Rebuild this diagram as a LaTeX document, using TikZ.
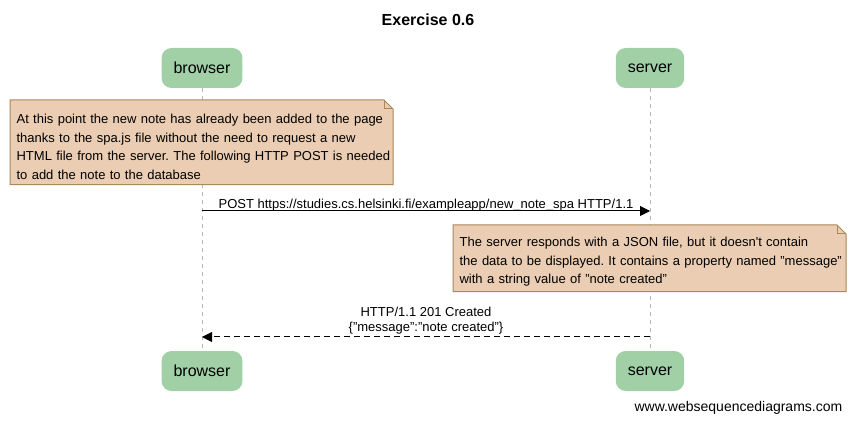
\documentclass[tikz,border=0pt]{standalone}
\usepackage{fontspec}
\setmainfont{Liberation Sans}
\usetikzlibrary{arrows.meta, backgrounds}
\definecolor{actorgreen}{RGB}{161,208,167}
\definecolor{notefill}{RGB}{234,205,178}
\definecolor{noteedge}{RGB}{168,136,88}
\frenchspacing

\begin{document}
\begin{tikzpicture}[
x=0.75pt, y=-0.75pt,
every node/.style={font=\fontsize{9.75}{13.875}\selectfont},
actor/.style={fill=actorgreen, rounded corners=7.5pt, minimum height=30pt, inner xsep=9pt, font=\fontsize{12}{14}\selectfont},
note/.style={anchor=north west, align=left, text width=300pt, inner xsep=4.75pt, inner ysep=3.75pt},
notebg/.style={fill=notefill, draw=noteedge, line width=0.75pt},
lifeline/.style={draw=gray!55, dash pattern=on 3pt off 3pt, line width=0.75pt},
msg/.style={-{Triangle[length=7.5pt, width=7.5pt]}, line width=0.75pt},
reply/.style={msg, dash pattern=on 4.5pt off 3pt}
]
\useasboundingbox (0,0) rectangle (855,423);
% Title
\node[font=\fontsize{12}{14}\selectfont\bfseries] (title) at (428,20) {Exercise 0.6};
% Actors
\node[actor] (browser) at (202,68) {browser};
\node[actor] (server) at (650,68) {server};
\node[actor] (browser-end) at (202,371) {browser};
\node[actor] (server-end) at (650,371) {server};
% Notes
\node[note] (note1) at (10,109) {At this point the new note has already been added to the page\\
thanks to the spa.js file without the need to request a new\\
HTML file from the server. The following HTTP POST is needed\\
to add the note to the database};
\node[note] (note2) at (453,232) {The server responds with a JSON file, but it doesn\textquotesingle t contain\\
the data to be displayed. It contains a property named "message"\\
with a string value of "note created"};
% Messages
\coordinate (post-from) at (202,211);
\coordinate (post-to) at (650,211);
\coordinate (resp-from) at (650,337);
\coordinate (resp-to) at (202,337);
\draw[msg] (post-from) -- node[above, inner sep=0pt, yshift=-0.5pt]{POST https://studies.cs.helsinki.fi/exampleapp/new\_note\_spa HTTP/1.1} (post-to);
\draw[reply] (resp-from) -- node[above, inner sep=1.5pt, align=center, font=\fontsize{9.75}{11.25}\selectfont]{HTTP/1.1 201 Created\\\{"message":"note created"\}} (resp-to);
% Watermark
\node[anchor=east, font=\fontsize{10.5}{12}\selectfont] (wsd) at (847,408) {www.websequencediagrams.com};
% Lifelines and note backgrounds
\begin{scope}[on background layer]
\fill[white] (0,0) rectangle (855,423);
\draw[lifeline] (browser) -- (browser-end);
\draw[lifeline] (server) -- (server-end);
\foreach \n/\w/\t in {note1/287.25pt/6.75pt, note2/294.75pt/5.25pt} {
  \draw[notebg] ([yshift=\t]\n.north west) -- ([xshift=\w-6.75pt, yshift=\t]\n.north west)
    -- ([xshift=\w, yshift=\t-6.75pt]\n.north west) -- ([xshift=\w]\n.south west) -- (\n.south west) -- cycle;
  \draw[draw=noteedge, line width=0.75pt] ([xshift=\w-6.75pt, yshift=\t]\n.north west)
    -- ([xshift=\w-6.75pt, yshift=\t-6.75pt]\n.north west) -- ([xshift=\w, yshift=\t-6.75pt]\n.north west);
}
\end{scope}
\end{tikzpicture}
\end{document}
